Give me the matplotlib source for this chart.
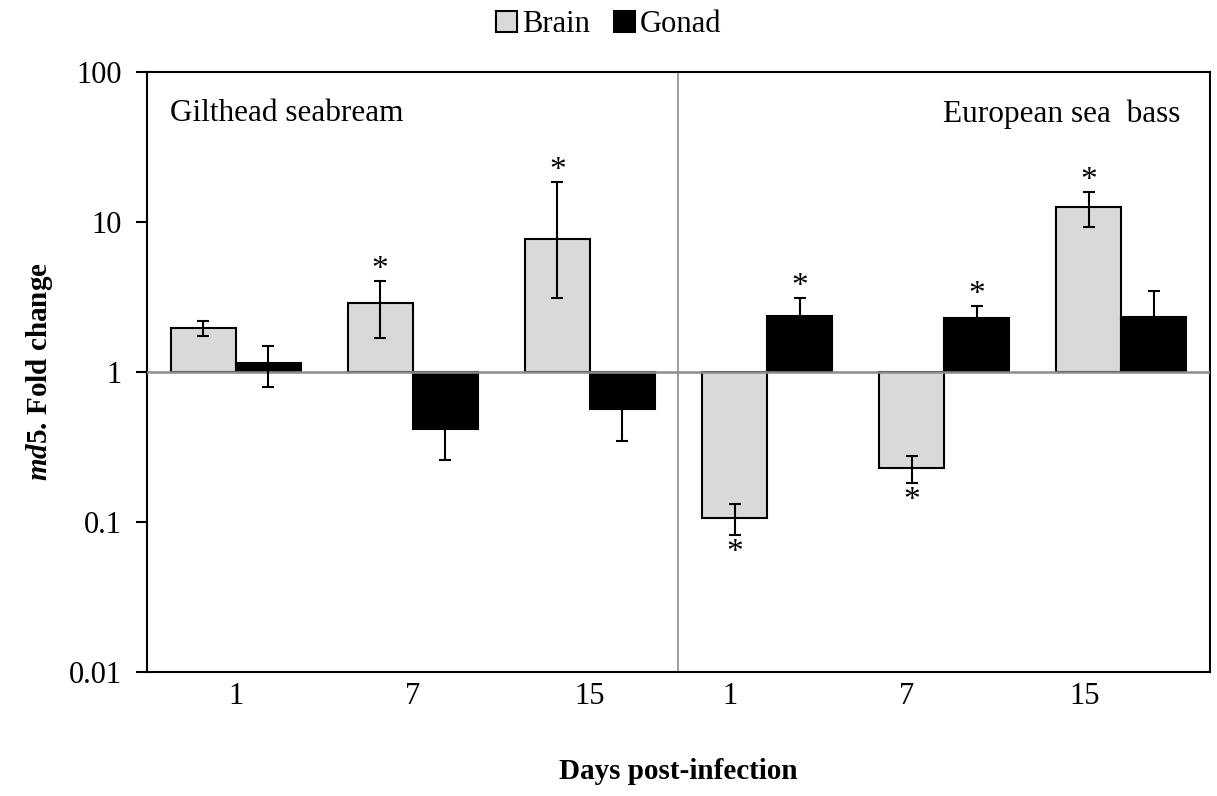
"""md5 fold change in brain and gonad, gilthead seabream vs European sea bass."""
import matplotlib.pyplot as plt
import numpy as np

DAYS = ["1", "7", "15", "1", "7", "15"]
SPECIES = ["Gilthead seabream", "European sea  bass"]

BRAIN = [1.96, 2.88, 7.7, 0.107, 0.229, 12.6]
BRAIN_LO = [1.75, 1.68, 3.1, 0.082, 0.182, 9.3]    # lower end of error bar
BRAIN_HI = [2.2, 4.05, 18.5, 0.132, 0.275, 15.8]   # upper end of error bar
GONAD = [1.14, 0.42, 0.57, 2.36, 2.29, 2.33]
GONAD_LO = [0.79, 0.258, 0.347, 1.6, 1.83, 1.2]
GONAD_HI = [1.49, 0.58, 0.79, 3.11, 2.75, 3.46]
BRAIN_SIG = [False, True, True, True, True, True]
GONAD_SIG = [False, False, False, True, True, False]

BRAIN_COLOR = "#d9d9d9"
GONAD_COLOR = "#000000"
GRID_GRAY = "#8c8c8c"

plt.rcParams.update({
    "font.family": "Liberation Serif",
    "font.size": 22,
    "mathtext.fontset": "custom",
    "mathtext.it": "Liberation Serif:italic:bold",
    "mathtext.rm": "Liberation Serif:bold",
})

fig = plt.figure(figsize=(12.17, 7.96), dpi=100)
ax = fig.add_axes([0.1208, 0.1558, 0.8734, 0.7537])

x = np.arange(len(DAYS))
w = 0.367

brain = np.array(BRAIN)
gonad = np.array(GONAD)

ax.bar(x - w / 2, brain - 1, bottom=1, width=w, color=BRAIN_COLOR,
       edgecolor="black", linewidth=1.5, zorder=2, label="Brain")
ax.bar(x + w / 2, gonad - 1, bottom=1, width=w, color=GONAD_COLOR,
       edgecolor="black", linewidth=1.5, zorder=2, label="Gonad")

brain_err = [brain - np.array(BRAIN_LO), np.array(BRAIN_HI) - brain]
gonad_err = [gonad - np.array(GONAD_LO), np.array(GONAD_HI) - gonad]
ax.errorbar(x - w / 2, brain, yerr=brain_err, fmt="none", ecolor="black",
            elinewidth=1.5, capsize=4.5, capthick=1.5, zorder=4)
ax.errorbar(x + w / 2, gonad, yerr=gonad_err, fmt="none", ecolor="black",
            elinewidth=1.5, capsize=4.5, capthick=1.5, zorder=4)

# significance stars: above the cap for up-bars, below it for down-bars
for xs, vals, los, his, sig in [(x - w / 2, BRAIN, BRAIN_LO, BRAIN_HI, BRAIN_SIG),
                                (x + w / 2, GONAD, GONAD_LO, GONAD_HI, GONAD_SIG)]:
    for xi, v, lo, hi, s in zip(xs, vals, los, his, sig):
        if not s:
            continue
        if v >= 1:
            ax.annotate("*", (xi, hi), xytext=(0, -3), textcoords="offset points",
                        ha="center", va="bottom", fontsize=24)
        else:
            ax.annotate("*", (xi, lo), xytext=(0, -2), textcoords="offset points",
                        ha="center", va="top", fontsize=24)

ax.axhline(1, color=GRID_GRAY, linewidth=1.8, zorder=3)
ax.axvline(2.5, color=GRID_GRAY, linewidth=1.2, zorder=1)

ax.set_yscale("log")
ax.set_ylim(0.01, 100)
ax.set_xlim(-0.5, 5.5)
ax.set_yticks([0.01, 0.1, 1, 10, 100])
ax.set_yticklabels(["0.01", "0.1", "1", "10", "100"])
ax.minorticks_off()
# day labels in the sea bass panel sit under the brain bars in the original
ax.set_xticks(x + np.where(x >= 3, -0.21, 0.0))
ax.set_xticklabels(DAYS)
ax.tick_params(axis="x", length=0, pad=7)
ax.tick_params(axis="y", direction="out", length=8, width=1.5, pad=10)
for sp in ax.spines.values():
    sp.set_linewidth(1.5)
    sp.set_color("black")

ax.text(0.022, 0.955, SPECIES[0], transform=ax.transAxes, ha="left", va="top",
        fontsize=22.5)
ax.text(0.972, 0.955, SPECIES[1], transform=ax.transAxes, ha="right", va="top",
        fontsize=22.5)

ax.set_ylabel(r"$md5$. Fold change", fontweight="bold", fontsize=21, labelpad=10)
ax.set_xlabel("Days post-infection", fontweight="bold", fontsize=21, labelpad=34)

fig.legend(loc="upper center", bbox_to_anchor=(0.5, 1.022), ncol=2, frameon=False,
           handlelength=0.7, handleheight=0.7, handletextpad=0.15, columnspacing=0.8)

plt.savefig("out.png", dpi=100, facecolor="white")
